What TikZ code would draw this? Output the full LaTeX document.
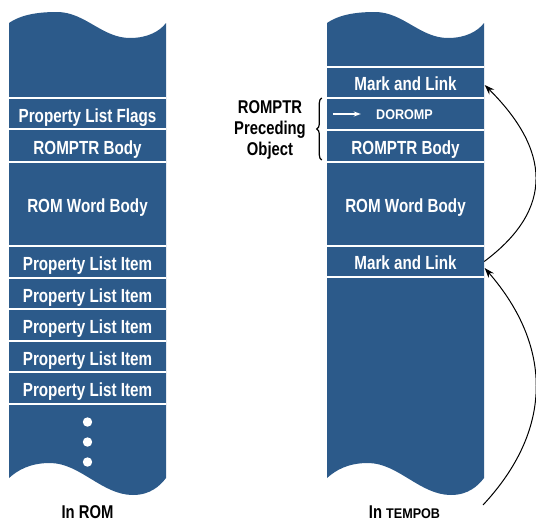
\documentclass[tikz,border=0pt]{standalone}
\usepackage{fontspec}
\setmainfont{Liberation Sans}
\newfontfamily\condfont{Liberation Sans}[FakeStretch=0.80]
\newfontfamily\semicondfont{Liberation Sans}[FakeStretch=0.90]
\usetikzlibrary{arrows.meta,decorations.pathreplacing,calc}
\definecolor{colblue}{RGB}{44,90,138}
\tikzset{
  column/.pic={
    \fill[colblue] (9,23) .. controls (22,14) and (40,12) .. (57,12)
      .. controls (85,12) and (102,38) .. (130,38)
      .. controls (148,38) and (160,31) .. (166,23)
      -- (166,478) .. controls (160,486) and (150,495) .. (133,495)
      .. controls (102,495) and (80,463) .. (50,463)
      .. controls (30,463) and (18,470) .. (9,478) -- cycle;
  },
  slot/.style={rectangle, inner sep=0pt, minimum width=157pt, text=white,
    text height=13.6pt, text depth=0pt,
    font=\condfont\bfseries\fontsize{19}{21}\selectfont},
  sep/.style={draw=white, line width=2.2pt},
  caption/.style={text=black, font=\condfont\bfseries\fontsize{18.5}{21}\selectfont},
  smallcaps/.style={font=\semicondfont\bfseries\fontsize{14}{16}\selectfont},
  link/.style={draw=black, line width=1pt, -{Stealth[length=10pt,width=7pt]}},
}
\begin{document}
\begin{tikzpicture}[x=1pt,y=-1pt]
\useasboundingbox (0,0) rectangle (536,523);

% the two memory columns
\pic at (0,0) {column};
\pic at (318,0) {column};

% ROM column
\node[slot, minimum height=31pt] (flagsL) at (87.5,113.5) {};
\node[slot, minimum height=33pt] (rptrL) at (87.5,145.5) {};
\node[slot, minimum height=84pt] (wordL) at (87.5,204) {};
\node[slot, minimum height=32pt] (pliA) at (87.5,262) {};
\node[slot, minimum height=31pt] (pliB) at (87.5,293.5) {};
\node[slot, minimum height=32pt] (pliC) at (87.5,325) {};
\node[slot, minimum height=31pt] (pliD) at (87.5,356.5) {};
\node[slot, minimum height=32pt] (pliE) at (87.5,388) {};
\foreach \n/\t in {flagsL/Property List Flags, rptrL/ROMPTR Body, wordL/ROM Word Body,
    pliA/Property List Item, pliB/Property List Item, pliC/Property List Item,
    pliD/Property List Item, pliE/Property List Item}
  \node[slot] at ([yshift=-1.8pt]\n.center) {\t};
\foreach \n in {flagsL,rptrL,wordL,pliA,pliB,pliC,pliD,pliE}
  \draw[sep] (\n.north west) -- (\n.north east);
\draw[sep] (pliE.south west) -- (pliE.south east);
\foreach \yy [count=\i] in {422,442,462}
  \fill[white] (87.5,\yy) circle (4.7pt) node (dot\i) {};

% TEMPOB column
\node[slot, minimum height=31pt] (mlA) at (405.5,82.5) {};
\node[slot, minimum height=32pt] (dor) at (405.5,114) {};
\node[slot, minimum height=32pt] (rptrR) at (405.5,146) {};
\node[slot, minimum height=84pt] (wordR) at (405.5,204) {};
\node[slot, minimum height=31pt] (mlB) at (405.5,261.5) {};
\foreach \n/\t in {mlA/Mark and Link, rptrR/ROMPTR Body, wordR/ROM Word Body, mlB/Mark and Link}
  \node[slot] at ([yshift=-1.5pt]\n.center) {\t};
\node[slot, smallcaps, text height=10pt] (dortext) at ([xshift=-1pt,yshift=-0.5pt]dor.center) {DOROMP};
\foreach \n in {mlA,dor,rptrR,wordR,mlB}
  \draw[sep] (\n.north west) -- (\n.north east);
\draw[sep] (mlB.south west) -- (mlB.south east);

% small pointer inside the DOROMP slot
\coordinate (ptrS) at ($(dor.west)+(6,0)$);
\coordinate (ptrE) at ($(dor.west)+(34,0)$);
\draw[white, line width=1.6pt, -{Stealth[length=7pt,width=5pt]}] (ptrS) -- (ptrE);

% bracket and its caption
\coordinate (brB) at ($(dor.west)+(-5,46)$);
\coordinate (brT) at ($(dor.west)+(-5,-16)$);
\draw[black, line width=1.2pt, decorate, decoration={brace, amplitude=5pt}] (brB) -- (brT);
\node[caption, align=center] (prec) at (270,130) {ROMPTR\\Preceding\\Object};

% link pointers
\coordinate (tipA) at ($(mlA.east)+(0.5,2.5)$);
\coordinate (tipB) at ($(mlB.east)+(0.5,6.5)$);
\coordinate (tailB) at (483,505);
\draw[link] (mlB.east) .. controls (556,208) and (549,149) .. (tipA);
\draw[link] (tailB) .. controls (553,430) and (553,347) .. (tipB);

% captions below
\node[caption] (romcap) at (87.5,512) {In ROM};
\node[caption] (tempcap) at (404.5,512) {In {\semicondfont\fontsize{14}{16}\selectfont TEMPOB}};
\end{tikzpicture}
\end{document}
